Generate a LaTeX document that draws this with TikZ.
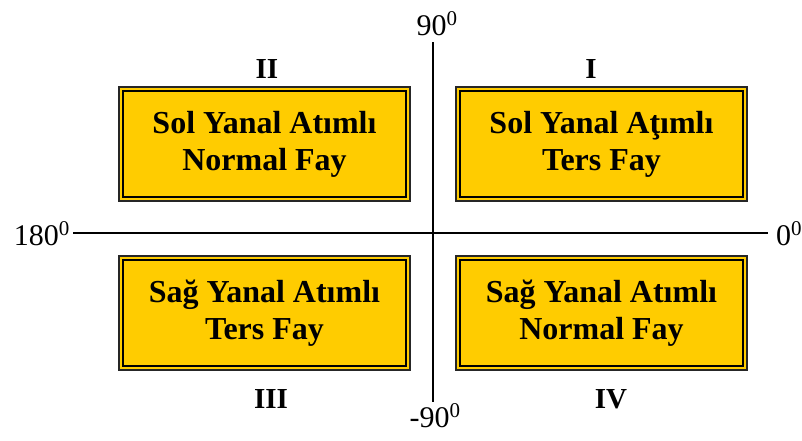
\documentclass[tikz,border=0pt]{standalone}
\usepackage{fontspec}
\setmainfont{Liberation Serif}
\definecolor{gold}{RGB}{255,204,0}
\begin{document}
\begin{tikzpicture}[x=1pt,y=-1pt,
  faybox/.style={draw=black!85, line width=1.5pt, fill=gold, minimum width=291pt, minimum height=114pt, inner sep=0pt, align=center, font=\fontsize{32}{37}\selectfont\bfseries},
  innerline/.style={draw=black, line width=2.6pt},
  quad/.style={font=\fontsize{29}{32}\selectfont\bfseries, inner sep=0pt, anchor=base},
  ang/.style={font=\fontsize{30}{34}\selectfont, inner sep=0pt},
  axis/.style={line width=2pt, draw=black}]
\useasboundingbox (0,0) rectangle (802,440);
\fill[white] (0,0) rectangle (802,440);
% axes
\coordinate (xl) at (73,233);
\coordinate (xr) at (768,233);
\coordinate (yt) at (433,42);
\coordinate (yb) at (433,402);
\draw[axis] (xl) -- (xr);
\draw[axis] (yt) -- (yb);
% boxes
\node[faybox] (b2) at (264.5,144) {Sol Yanal Atımlı\\Normal Fay};
\node[faybox] (b1) at (601.5,144) {Sol Yanal Aţımlı\\Ters Fay};
\node[faybox] (b3) at (264.5,313) {Sağ Yanal Atımlı\\Ters Fay};
\node[faybox] (b4) at (601.5,313) {Sağ Yanal Atımlı\\Normal Fay};
\foreach \b in {b1,b2,b3,b4}{
  \draw[innerline] ([xshift=4.8pt,yshift=-4.8pt]\b.north west) rectangle ([xshift=-4.8pt,yshift=4.8pt]\b.south east);
}
% quadrant labels
\node[quad] (q2) at (267,78) {II};
\node[quad] (q1) at (591,78) {I};
\node[quad] (q3) at (271,408) {III};
\node[quad] (q4) at (611,408) {IV};
% angle labels
\node[ang, anchor=base east] (a180) at (70,245) {180\textsuperscript{0}};
\node[ang, anchor=base west] (a0) at (776,245) {0\textsuperscript{0}};
\node[ang, anchor=base] (a90) at (437,35) {90\textsuperscript{0}};
\node[ang, anchor=base] (am90) at (435,427) {-90\textsuperscript{0}};
\end{tikzpicture}
\end{document}
